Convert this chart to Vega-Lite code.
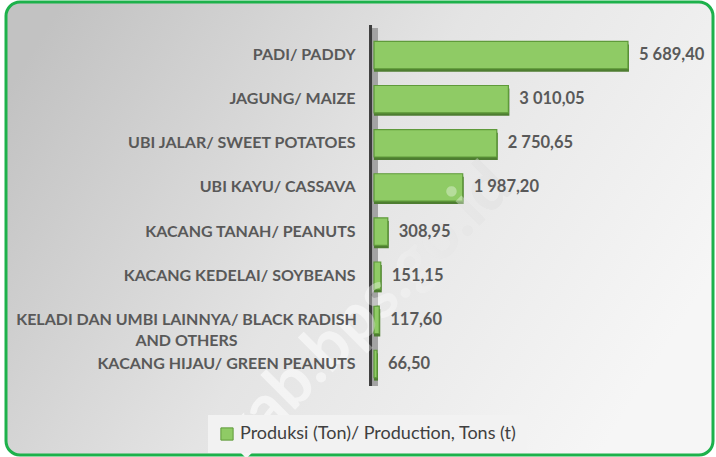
{
  "$schema": "https://vega.github.io/schema/vega-lite/v6.json",
  "width": 707,
  "height": 453,
  "autosize": {"type": "none"},
  "padding": {"left": 6, "top": 2, "right": 3, "bottom": 2},
  "background": "white",
  "config": {
    "locale": {"number": {"decimal": ",", "thousands": " ", "grouping": [3], "currency": ["", ""]}},
    "view": {
      "stroke": "#1db14b",
      "strokeWidth": 3,
      "cornerRadius": 14,
      "fill": {"gradient": "linear", "x1": 0, "y1": 0.2, "x2": 1, "y2": 0.6,
        "stops": [{"offset": 0, "color": "#c2c2c2"}, {"offset": 0.5, "color": "#e4e4e4"}, {"offset": 1, "color": "#f6f6f6"}]}
    }
  },
  "data": {"values": [
    {"crop": "PADI/ PADDY", "value": 5689.40, "series": "Produksi (Ton)/ Production, Tons (t)"},
    {"crop": "JAGUNG/ MAIZE", "value": 3010.05, "series": "Produksi (Ton)/ Production, Tons (t)"},
    {"crop": "UBI JALAR/ SWEET POTATOES", "value": 2750.65, "series": "Produksi (Ton)/ Production, Tons (t)"},
    {"crop": "UBI KAYU/ CASSAVA", "value": 1987.20, "series": "Produksi (Ton)/ Production, Tons (t)"},
    {"crop": "KACANG TANAH/ PEANUTS", "value": 308.95, "series": "Produksi (Ton)/ Production, Tons (t)"},
    {"crop": "KACANG KEDELAI/ SOYBEANS", "value": 151.15, "series": "Produksi (Ton)/ Production, Tons (t)"},
    {"crop": "KELADI DAN UMBI LAINNYA/ BLACK RADISH AND OTHERS", "value": 117.60, "series": "Produksi (Ton)/ Production, Tons (t)"},
    {"crop": "KACANG HIJAU/ GREEN PEANUTS", "value": 66.50, "series": "Produksi (Ton)/ Production, Tons (t)"}
  ]},
  "encoding": {
    "y": {
      "field": "crop", "type": "nominal", "sort": null,
      "scale": {
        "domain": ["PADI/ PADDY", "JAGUNG/ MAIZE", "UBI JALAR/ SWEET POTATOES", "UBI KAYU/ CASSAVA", "KACANG TANAH/ PEANUTS", "KACANG KEDELAI/ SOYBEANS", "KELADI DAN UMBI LAINNYA/ BLACK RADISH AND OTHERS", "KACANG HIJAU/ GREEN PEANUTS"],
        "range": [31, 384], "paddingInner": 0.38, "paddingOuter": 0.19
      },
      "axis": {
        "title": null, "orient": "left", "offset": -366, "zindex": 1,
        "domain": false, "ticks": false, "grid": false,
        "labelFont": "Lato", "labelFontWeight": "bold", "labelFontSize": 16, "labelColor": "#595959",
        "labelLimit": 500, "labelOverlap": false, "labelBound": false, "labelLineHeight": 21,
        "labelExpr": "datum.value == 'KELADI DAN UMBI LAINNYA/ BLACK RADISH AND OTHERS' ? ['KELADI DAN UMBI LAINNYA/ BLACK RADISH', 'AND OTHERS'] : datum.label",
        "labelAlign": {"condition": {"test": "datum.value == 'KELADI DAN UMBI LAINNYA/ BLACK RADISH AND OTHERS'", "value": "center"}, "value": "right"},
        "labelPadding": {"condition": {"test": "datum.value == 'KELADI DAN UMBI LAINNYA/ BLACK RADISH AND OTHERS'", "value": 186}, "value": 17}
      }
    },
    "x": {
      "field": "value", "type": "quantitative",
      "scale": {"domain": [-8244, 7594], "nice": false, "zero": false},
      "axis": null
    }
  },
  "layer": [
    {
      "transform": [{"filter": "datum.crop == 'KELADI DAN UMBI LAINNYA/ BLACK RADISH AND OTHERS'"}],
      "mark": {"type": "text", "text": "kab.bps.go.id", "angle": 315, "align": "center", "baseline": "middle", "font": "Lato", "fontWeight": "bold", "fontSize": 66, "dx": 6, "dy": -6,
        "color": {"gradient": "linear", "x1": 0, "y1": 0, "x2": 1, "y2": 0,
          "stops": [{"offset": 0, "color": "#f0f0f0"}, {"offset": 0.5, "color": "#ededed"}, {"offset": 0.75, "color": "#dddddd"}, {"offset": 1, "color": "#d6d6d6"}]}},
      "encoding": {
        "x": {"datum": -202}
      }
    },
    {
      "transform": [{"filter": "datum.crop == 'PADI/ PADDY'"}],
      "mark": {"type": "rule", "color": "#a3a3a3", "strokeWidth": 6, "yOffset": -27, "y2Offset": 22},
      "encoding": {
        "x": {"datum": 22},
        "y2": {"datum": "KACANG HIJAU/ GREEN PEANUTS"}
      }
    },
    {
      "transform": [{"filter": "datum.crop == 'PADI/ PADDY'"}],
      "mark": {"type": "rule", "color": "#3c3c3c", "strokeWidth": 3, "yOffset": -30, "y2Offset": 22},
      "encoding": {
        "x": {"datum": -78},
        "y2": {"datum": "KACANG HIJAU/ GREEN PEANUTS"}
      }
    },
    {
      "mark": {"type": "bar", "color": "#4e7d31", "yOffset": 3, "xOffset": 1},
      "encoding": {"x2": {"datum": 0}}
    },
    {
      "mark": {"type": "bar", "stroke": "#5f9a3a", "strokeWidth": 1.2},
      "encoding": {
        "x2": {"datum": 0},
        "color": {
          "field": "series", "type": "nominal",
          "scale": {"range": ["#8fcb65"]},
          "legend": {
            "title": null, "orient": "none", "legendX": 202, "legendY": 413,
            "symbolType": "square", "symbolSize": 150, "symbolStrokeColor": "#5f9a3a", "symbolStrokeWidth": 1,
            "labelFont": "Lato", "labelFontSize": 18, "labelColor": "#404040", "labelLimit": 400,
            "fillColor": "#f2f2f2", "padding": 10
          }
        }
      }
    },
    {
      "transform": [{"filter": "datum.crop == 'KELADI DAN UMBI LAINNYA/ BLACK RADISH AND OTHERS'"}],
      "mark": {"type": "text", "text": "kab.bps.go.id", "angle": 315, "align": "center", "baseline": "middle", "font": "Lato", "fontWeight": "bold", "fontSize": 66, "color": "#ffffff", "opacity": 0.35, "dx": 6, "dy": -6},
      "encoding": {
        "x": {"datum": -202}
      }
    },
    {
      "mark": {"type": "text", "align": "left", "baseline": "middle", "dx": 11, "font": "Lato", "fontWeight": "bold", "fontSize": 16.5, "color": "#595959"},
      "encoding": {"text": {"field": "value", "type": "quantitative", "format": ",.2f"}}
    }
  ]
}
